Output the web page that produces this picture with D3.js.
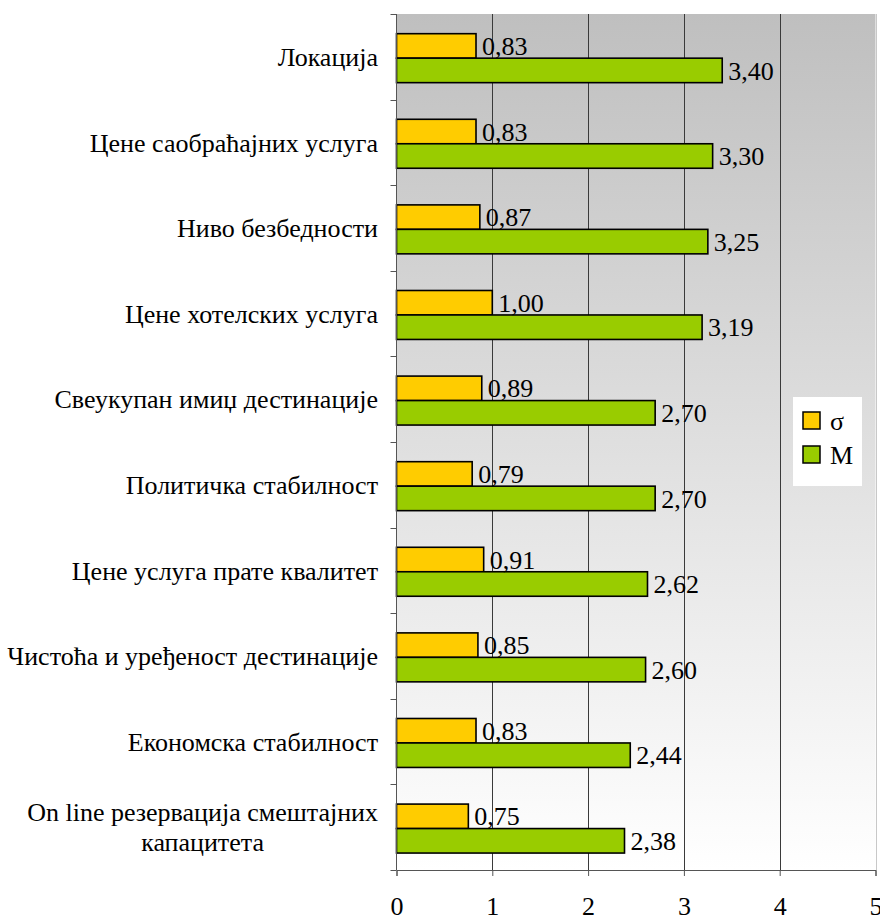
<!DOCTYPE html>
<html>
<head>
<meta charset="utf-8">
<script src="https://cdn.jsdelivr.net/npm/d3@7"></script>
<style>
  html, body { margin: 0; padding: 0; background: #ffffff; }
</style>
</head>
<body>
<svg id="chart" width="880" height="921"></svg>
<script>
// Survey factors (top to bottom) with standard deviation (σ) and mean (M)
const categories = [
  "Локација",
  "Цене саобраћајних услуга",
  "Ниво безбедности",
  "Цене хотелских услуга",
  "Свеукупан имиџ дестинације",
  "Политичка стабилност",
  "Цене услуга прате квалитет",
  "Чистоћа и уређеност дестинације",
  "Економска стабилност",
  "On line резервација смештајних капацитета"
];
const sigmaValues = [0.83, 0.83, 0.87, 1.00, 0.89, 0.79, 0.91, 0.85, 0.83, 0.75];
const meanValues  = [3.40, 3.30, 3.25, 3.19, 2.70, 2.70, 2.62, 2.60, 2.44, 2.38];
const seriesNames = ["σ", "M"];
const seriesColors = ["#ffcc00", "#99cc00"];
const xTicks = [0, 1, 2, 3, 4, 5];

// wrapped lines for long category names
const labelLines = {
  "On line резервација смештајних капацитета": ["On line резервација смештајних", "капацитета"]
};

const FONT = "'Liberation Serif', 'Times New Roman', Times, serif";
const FS = 26;

const svg = d3.select("#chart");
const plot = { left: 396.5, right: 875.5, top: 14, bottom: 870 };

const x = d3.scaleLinear().domain([0, 5]).range([plot.left, plot.right]);
const y = d3.scaleBand().domain(categories).range([plot.top, plot.bottom]);
const bw = y.bandwidth();
const ySub = d3.scaleBand().domain(seriesNames).range([bw * 0.23, bw * 0.802]);

function label(sel) {
  return sel.style("font-family", FONT).style("font-size", FS + "px").attr("fill", "#000");
}

// background gradient
const defs = svg.append("defs");
const grad = defs.append("linearGradient").attr("id", "bg")
  .attr("x1", 0).attr("y1", 0).attr("x2", 0).attr("y2", 1);
grad.append("stop").attr("offset", "0%").attr("stop-color", "#bfbfbf");
grad.append("stop").attr("offset", "100%").attr("stop-color", "#ffffff");

svg.append("rect")
  .attr("x", plot.left).attr("y", plot.top)
  .attr("width", plot.right - plot.left).attr("height", plot.bottom - plot.top)
  .attr("fill", "url(#bg)");

// vertical gridlines
svg.append("g").selectAll("line")
  .data(xTicks.filter(d => d > 0))
  .join("line")
  .attr("x1", d => Math.round(x(d)) + 0.5).attr("x2", d => Math.round(x(d)) + 0.5)
  .attr("y1", plot.top).attr("y2", plot.bottom)
  .attr("stroke", d => d === 5 ? "#c8c8c8" : "#3a3a3a")
  .attr("stroke-width", 1);

// bars
const rows = categories.map((c, i) => ({ c, vals: [sigmaValues[i], meanValues[i]] }));
const groups = svg.append("g").selectAll("g")
  .data(rows)
  .join("g")
  .attr("transform", d => `translate(0,${y(d.c)})`);

groups.selectAll("rect")
  .data(d => d.vals.map((v, k) => ({ v, s: seriesNames[k], k })))
  .join("rect")
  .attr("x", x(0))
  .attr("y", d => ySub(d.s))
  .attr("width", d => x(d.v) - x(0))
  .attr("height", ySub.bandwidth())
  .attr("fill", d => seriesColors[d.k])
  .attr("stroke", "#000")
  .attr("stroke-width", 1.6);

groups.selectAll("text.val")
  .data(d => d.vals.map((v, k) => ({ v, s: seriesNames[k] })))
  .join("text")
  .attr("class", "val")
  .attr("x", d => x(d.v) + 6)
  .attr("y", d => ySub(d.s) + ySub.bandwidth() / 2)
  .attr("dy", "0.35em")
  .call(label)
  .text(d => d.v.toFixed(2).replace(".", ","));

// y axis line with ticks
const yAxis = svg.append("g");
yAxis.append("line")
  .attr("x1", plot.left).attr("x2", plot.left)
  .attr("y1", plot.top).attr("y2", plot.bottom)
  .attr("stroke", "#555").attr("stroke-width", 1);
const bounds = categories.map(c => y(c)).concat([plot.bottom]);
yAxis.selectAll("line.tick")
  .data(bounds)
  .join("line")
  .attr("class", "tick")
  .attr("x1", plot.left - 6).attr("x2", plot.left)
  .attr("y1", d => Math.round(d) + 0.5).attr("y2", d => Math.round(d) + 0.5)
  .attr("stroke", "#555");

// category labels
svg.append("g").selectAll("g")
  .data(categories)
  .join("g")
  .each(function (c) {
    const lines = labelLines[c] || [c];
    const g = d3.select(this);
    const cy = y(c) + bw / 2;
    const lh = 30;
    if (lines.length === 1) {
      g.append("text")
        .attr("x", 378).attr("y", cy).attr("dy", "0.35em")
        .attr("text-anchor", "end").call(label)
        .text(lines[0]);
    } else {
      // multi-line: lines centred on each other, block right aligned
      const tmp = g.append("text").call(label).text(lines[0]);
      const w = tmp.node().getComputedTextLength();
      tmp.remove();
      const cx = 378 - w / 2;
      lines.forEach((ln, j) => {
        g.append("text")
          .attr("x", cx)
          .attr("y", cy + (j - (lines.length - 1) / 2) * lh)
          .attr("dy", "0.35em")
          .attr("text-anchor", "middle").call(label)
          .text(ln);
      });
    }
  });

// x axis
const xAxis = d3.axisBottom(x).tickValues(xTicks).tickSize(6).tickPadding(0)
  .tickFormat(d3.format("d"));
const gx = svg.append("g").attr("transform", `translate(0,${plot.bottom})`).call(xAxis);
gx.attr("font-family", null).attr("font-size", null);
gx.select(".domain").attr("stroke", "#555");
gx.selectAll(".tick line").attr("stroke", "#555");
gx.selectAll(".tick text")
  .attr("y", 45).attr("dy", null)
  .call(label);

// legend
const lg = svg.append("g").attr("transform", "translate(793,397)");
lg.append("rect").attr("width", 69).attr("height", 89).attr("fill", "#ffffff");
seriesNames.forEach((s, k) => {
  const yy = 15 + k * 34;
  lg.append("rect")
    .attr("x", 10).attr("y", yy).attr("width", 17).attr("height", 17)
    .attr("fill", seriesColors[k]).attr("stroke", "#000").attr("stroke-width", 1.5);
  lg.append("text")
    .attr("x", 37).attr("y", yy + 9).attr("dy", "0.35em")
    .call(label)
    .text(s);
});
</script>
</body>
</html>
